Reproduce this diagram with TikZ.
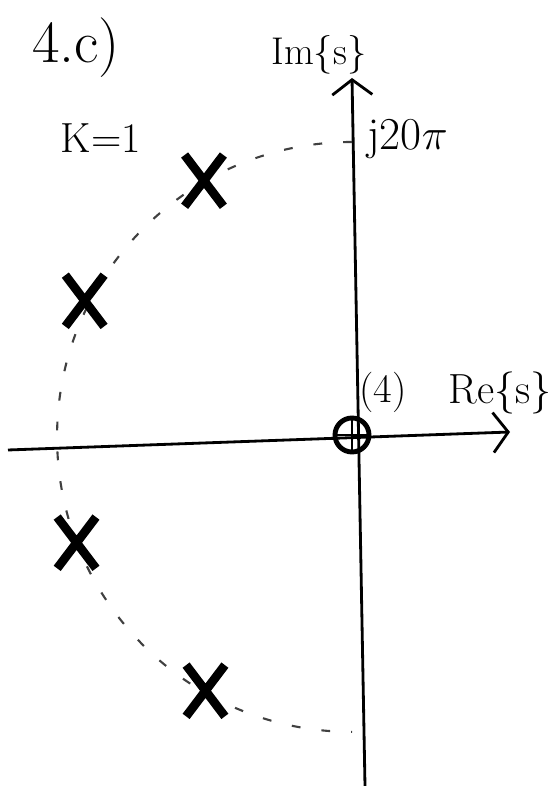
\documentclass[tikz,border=0pt]{standalone}
\usepackage{amsmath}
\usepackage{tikz}
\usetikzlibrary{arrows.meta, shapes.misc}

\begin{document}
\begin{tikzpicture}[
			x=0.02cm, y=0.02cm,
			axis/.style={line width=1.6pt, -{Straight Barb[length=0.3cm, width=0.8cm, line width=1.6pt]}},
			pole/.style={cross out, draw, line width=5pt, minimum width=0.6cm,
				minimum height=0.85cm, inner sep=0pt},
			zero/.style={circle, draw, line width=2.8pt, minimum size=0.68cm, inner sep=0pt},
			locus/.style={line width=1.2pt, black!75, dash pattern=on 5pt off 12pt},
			lbl/.style={inner sep=0pt},
			]
			\useasboundingbox (-352,-349) rectangle (207,437);
			
			% Axes
			\coordinate (west) at (-344,-13);
			\coordinate (east) at (158,5);
			\coordinate (south) at (13,-349);
			\coordinate (north) at (0,359);
			\draw[axis] (west) -- (east);
			\draw[axis] (south) -- (north);
			
			% Locus through the poles
			\coordinate (jtop) at (0,295);
			\draw[locus] (jtop) arc[start angle=90, end angle=270, radius=5.9cm];
			
			% Poles and zero
			\node[pole] (p1) at (120:296) {};
			\node[pole] (p2) at (153:300) {};
			\node[pole] (p3) at (201:295) {};
			\node[pole] (p4) at (240:293) {};
			\node[zero] (z) at (0,2) {};
			\draw[line width=1.2pt] (z.west) -- (z.east) (z.north) -- (z.south);
			
			% Labels
			\node[lbl, font=\fontsize{34}{36}\selectfont] (task) at (-276,389) {4.c)};
			\node[lbl, font=\fontsize{24}{26}\selectfont] (gain) at (-251,299) {K=1};
			\node[lbl, font=\fontsize{22}{24}\selectfont] (imlbl) at (-33,382) {Im\{s\}};
			\node[lbl, font=\fontsize{26}{28}\selectfont, anchor=base west] (jlbl) at (15,287) {j20$\pi$};
			\node[lbl, font=\fontsize{23}{25}\selectfont] (mult) at (31,45) {(4)};
			\node[lbl, font=\fontsize{24}{26}\selectfont] (relbl) at (148,44) {Re\{s\}};
		\end{tikzpicture}
\end{document}
